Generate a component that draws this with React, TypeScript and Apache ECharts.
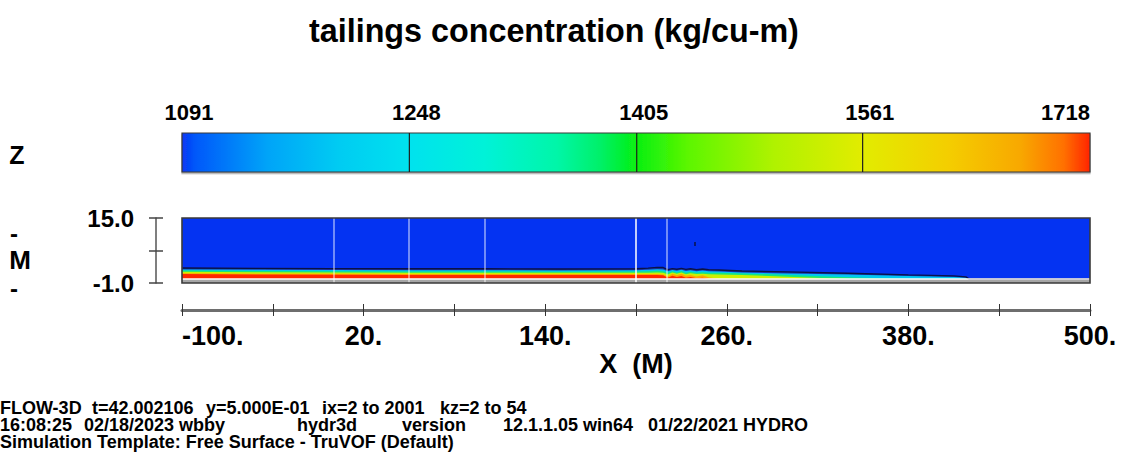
import React, { useEffect, useRef } from 'react';
import * as echarts from 'echarts';

const FONT = "'Liberation Sans', Arial, Helvetica, sans-serif";
const TITLE = 'tailings concentration (kg/cu-m)';

// Concentration colour scale (kg/cu-m)
const colorbarMin = 1091;
const colorbarMax = 1718;
const colorbarTicks = [1091, 1248, 1405, 1561, 1718];
const colorbarStops: [number, string][] = [
  [1091, '#0a36f4'],
  [1100, '#0058fa'],
  [1150, '#00a4f8'],
  [1200, '#00ccf2'],
  [1248, '#00e2ee'],
  [1300, '#00f2d8'],
  [1350, '#00f6a8'],
  [1380, '#00f068'],
  [1405, '#08f010'],
  [1440, '#5cf600'],
  [1500, '#b0f200'],
  [1561, '#e2ec00'],
  [1620, '#f4ce00'],
  [1670, '#f8a800'],
  [1700, '#ff7000'],
  [1718, '#ff2400'],
];

// Section axes (m)
const xMin = -100;
const xMax = 500;
const xTickValues = [-100, -40, 20, 80, 140, 200, 260, 320, 380, 440, 500];
const xLabelValues = [-100, 20, 140, 260, 380, 500];
const zMin = -1;
const zMax = 15;
const zTickValues = [-1, 7, 15];
const zLabelValues = [-1, 15];

// Stations along the section (m)
const stationX = [-100, -50, 0, 50, 100, 150, 200, 208, 214, 218, 221, 224, 227, 230, 233, 236, 240, 244, 248, 255, 270, 300, 340, 380, 410, 418, 420, 500];
// Elevation (m) of the top of each concentration band at those stations
const surfaceZ = [2.7, 2.6, 2.55, 2.5, 2.5, 2.45, 2.5, 2.65, 2.85, 2.8, 2.3, 2.55, 2.4, 2.6, 2.35, 2.5, 2.3, 2.45, 2.3, 2.2, 1.95, 1.75, 1.4, 1.0, 0.75, 0.5, 0, 0];
const band1250Z = [2.35, 2.25, 2.2, 2.15, 2.15, 2.1, 2.15, 2.25, 2.4, 2.35, 1.9, 2.2, 2.0, 2.25, 1.95, 2.15, 1.9, 2.05, 1.9, 1.85, 1.6, 1.35, 1.1, 0.75, 0.5, 0.3, 0, 0];
const band1400Z = [2.05, 1.95, 1.9, 1.85, 1.85, 1.8, 1.85, 1.9, 2.0, 1.9, 1.5, 1.9, 1.6, 1.95, 1.55, 1.8, 1.5, 1.65, 1.5, 1.5, 1.35, 1.0, 0.4, 0, 0, 0, 0, 0];
const band1560Z = [1.75, 1.65, 1.6, 1.55, 1.55, 1.5, 1.55, 1.55, 1.6, 1.5, 1.1, 1.6, 1.25, 1.6, 1.15, 1.4, 1.2, 1.3, 1.15, 1.1, 0.95, 0.55, 0, 0, 0, 0, 0, 0];
const band1650Z = [1.4, 1.3, 1.25, 1.2, 1.2, 1.2, 1.2, 1.2, 1.2, 1.1, 0.6, 1.3, 0.9, 1.25, 0.8, 1.0, 0.6, 0.9, 0.4, 0, 0, 0, 0, 0, 0, 0, 0, 0];
const band1710Z = [1.2, 1.1, 1.05, 1.0, 1.0, 1.0, 1.0, 1.0, 1.0, 0.9, 0.3, 0.8, 0.5, 0.7, 0.3, 0.5, 0.2, 0.3, 0, 0, 0, 0, 0, 0, 0, 0, 0, 0];

// Channel bed
const bedX = [-100, 500];
const bedZ = [0, 0];

// Mesh block boundaries (m)
const meshBlockX = [0, 50, 100, 200, 220];

// Isolated droplet above the flow
const dropletX = [239];
const dropletZ = [8.6];

// Run information, one entry per word group
const FOOTER: [string, number, number][] = [
  ['FLOW-3D', 0, 408],
  ['t=42.002106', 92, 408],
  ['y=5.000E-01', 206, 408],
  ['ix=2 to 2001', 322, 408],
  ['kz=2 to 54', 440, 408],
  ['16:08:25', 0, 425],
  ['02/18/2023 wbby', 84, 425],
  ['hydr3d', 297, 425],
  ['version', 402, 425],
  ['12.1.1.05 win64', 503, 425],
  ['01/22/2021 HYDRO', 648, 425],
  ['Simulation Template: Free Surface - TruVOF (Default)', 0, 442],
];

const zip = (xs: number[], ys: number[]) => xs.map((x, i) => [x, ys[i]]);

const bandSeries = (name: string, zs: number[], fill: string, line?: string) => ({
  type: 'line',
  name,
  xAxisIndex: 0,
  yAxisIndex: 0,
  data: zip(stationX, zs),
  symbol: 'none',
  showSymbol: false,
  silent: true,
  lineStyle: line ? { color: line, width: 1.4 } : { width: 0, opacity: 0 },
  areaStyle: { color: fill, opacity: 1, origin: 'start' },
});

const sectionAxis = (inside: boolean, primary: boolean) => ({
  type: 'value',
  gridIndex: 0,
  min: xMin,
  max: xMax,
  position: 'bottom',
  offset: 27,
  axisLine: { show: primary, onZero: false, lineStyle: { color: '#6e6e6e', width: 3 } },
  axisTick: { show: true, inside, length: 6, customValues: xTickValues, lineStyle: { color: '#333', width: 1 } },
  axisLabel: {
    show: primary,
    customValues: xLabelValues,
    formatter: (v: number) => `${v}.`,
    fontFamily: FONT,
    fontSize: 27,
    fontWeight: 'bold',
    color: '#000',
    margin: 12,
    alignMinLabel: 'left',
  },
  splitLine: { show: false },
  name: primary ? 'X  (M)' : '',
  nameLocation: 'middle',
  nameGap: 40,
  nameTextStyle: { fontFamily: FONT, fontSize: 27, fontWeight: 'bold', color: '#000' },
});

const elevationAxis = (inside: boolean, primary: boolean) => ({
  type: 'value',
  gridIndex: 0,
  min: zMin,
  max: zMax,
  position: 'left',
  offset: 26,
  axisLine: { show: primary, onZero: false, lineStyle: { color: '#555', width: 1.5 } },
  axisTick: { show: true, inside, length: 7, customValues: zTickValues, lineStyle: { color: '#444', width: 1.5 } },
  axisLabel: {
    show: primary,
    customValues: zLabelValues,
    formatter: (v: number) => v.toFixed(1),
    fontFamily: FONT,
    fontSize: 24,
    fontWeight: 'bold',
    color: '#000',
    margin: 22,
  },
  splitLine: { show: false },
});

export default function App() {
  const ref = useRef<HTMLDivElement>(null);

  useEffect(() => {
    if (!ref.current) return;
    const chart = echarts.init(ref.current, undefined, { renderer: 'svg' });
    const span = colorbarMax - colorbarMin;

    chart.setOption({
      animation: false,
      backgroundColor: '#fff',
      textStyle: { fontFamily: FONT },
      title: {
        text: TITLE,
        left: 304,
        top: 10,
        textStyle: { fontFamily: FONT, fontSize: 32.3, fontWeight: 'bold', color: '#000' },
      },
      grid: [
        { left: 182, top: 218, width: 908, height: 65, show: true, backgroundColor: '#0433f2', borderWidth: 0 },
        { left: 182, top: 133, width: 908, height: 39, show: false },
      ],
      xAxis: [
        sectionAxis(false, true),
        sectionAxis(true, false),
        {
          type: 'value',
          gridIndex: 1,
          min: colorbarMin,
          max: colorbarMax,
          position: 'top',
          axisLine: { show: false, onZero: false },
          axisTick: { show: false },
          splitLine: { show: false },
          axisLabel: {
            customValues: colorbarTicks,
            formatter: (v: number) => String(v),
            fontFamily: FONT,
            fontSize: 22,
            fontWeight: 'bold',
            color: '#000',
            margin: 10,
            padding: [0, 0, 0, 14],
            alignMaxLabel: 'right',
          },
        },
      ],
      yAxis: [
        elevationAxis(false, true),
        elevationAxis(true, false),
        { type: 'value', gridIndex: 1, min: 0, max: 1, show: false },
      ],
      series: [
        {
          type: 'custom',
          xAxisIndex: 2,
          yAxisIndex: 2,
          silent: true,
          data: [[colorbarMin, 0, colorbarMax, 1]],
          encode: { x: [0, 2], y: [1, 3] },
          renderItem: (_params: any, api: any) => {
            const tl = api.coord([api.value(0), api.value(3)]);
            const br = api.coord([api.value(2), api.value(1)]);
            const children: any[] = [
              {
                type: 'rect',
                shape: { x: tl[0], y: tl[1], width: br[0] - tl[0], height: br[1] - tl[1] },
                style: {
                  fill: new echarts.graphic.LinearGradient(
                    0, 0, 1, 0,
                    colorbarStops.map(([v, c]) => ({ offset: (v - colorbarMin) / span, color: c })),
                  ),
                  stroke: '#3a3a3a',
                  lineWidth: 1.2,
                  shadowColor: 'rgba(0,0,0,0.35)',
                  shadowOffsetY: 1.5,
                  shadowBlur: 1,
                },
              },
            ];
            colorbarTicks.slice(1, -1).forEach((v) => {
              const a = api.coord([v, api.value(3)]);
              const b = api.coord([v, api.value(1)]);
              children.push({
                type: 'line',
                shape: { x1: a[0], y1: a[1], x2: b[0], y2: b[1] },
                style: { stroke: '#1e1e1e', lineWidth: 1.2 },
              });
            });
            return { type: 'group', children };
          },
        },
        bandSeries('surface', surfaceZ, '#1a34b0', '#0b1246'),
        bandSeries('1250', band1250Z, '#00c6f4'),
        bandSeries('1400', band1400Z, '#18e67c'),
        bandSeries('1560', band1560Z, '#ccf000'),
        bandSeries('1650', band1650Z, '#ffa400'),
        bandSeries('1710', band1710Z, '#ff2800'),
        {
          type: 'line',
          name: 'bed',
          xAxisIndex: 0,
          yAxisIndex: 0,
          data: zip(bedX, bedZ),
          symbol: 'none',
          silent: true,
          lineStyle: { color: '#ffffff', width: 1.6 },
          areaStyle: { color: '#a6a6a6', opacity: 1, origin: 'start' },
          markLine: {
            silent: true,
            symbol: 'none',
            label: { show: false },
            data: meshBlockX.map((x) => ({
              xAxis: x,
              lineStyle: { color: '#ffffff', width: 1.6, type: 'solid', opacity: x === 200 ? 0.95 : 0.55 },
            })),
          },
        },
        {
          type: 'scatter',
          name: 'droplet',
          xAxisIndex: 0,
          yAxisIndex: 0,
          data: zip(dropletX, dropletZ),
          symbol: 'rect',
          symbolSize: [2, 4],
          silent: true,
          itemStyle: { color: '#0a1450' },
        },
      ],
      graphic: [
        {
          type: 'rect',
          z: 100,
          silent: true,
          shape: { x: 182, y: 218, width: 908, height: 65 },
          style: { fill: 'none', stroke: '#3a3a3a', lineWidth: 1.6 },
        },
        {
          type: 'text', x: 17, y: 155, silent: true,
          style: { text: 'Z', align: 'center', verticalAlign: 'middle', font: `bold 25px ${FONT}`, fill: '#000' },
        },
        {
          type: 'text', x: 14, y: 233, silent: true,
          style: { text: '-', align: 'center', verticalAlign: 'middle', font: `bold 24px ${FONT}`, fill: '#000' },
        },
        {
          type: 'text', x: 20, y: 260, silent: true,
          style: { text: 'M', align: 'center', verticalAlign: 'middle', font: `bold 26px ${FONT}`, fill: '#000' },
        },
        {
          type: 'text', x: 14, y: 288, silent: true,
          style: { text: '-', align: 'center', verticalAlign: 'middle', font: `bold 24px ${FONT}`, fill: '#000' },
        },
        ...FOOTER.map(([text, x, y]) => ({
          type: 'text',
          x,
          y,
          silent: true,
          style: {
            text,
            align: 'left',
            verticalAlign: 'middle',
            font: `bold 18px ${FONT}`,
            lineHeight: 15,
            fill: '#000',
          },
        })),
      ],
    });

    return () => chart.dispose();
  }, []);

  return (
    <div
      ref={ref}
      style={{ position: 'fixed', left: 0, top: 0, width: 1136, height: 457, background: '#fff' }}
    />
  );
}
